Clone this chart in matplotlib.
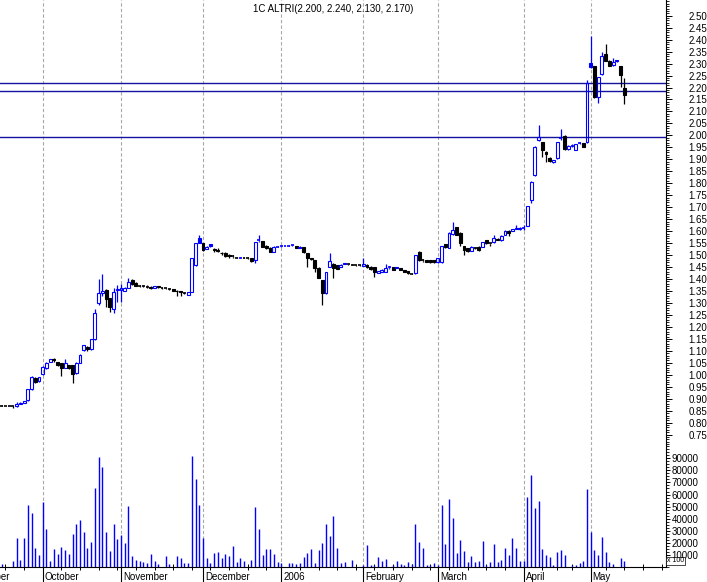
import matplotlib
matplotlib.use("Agg")
import matplotlib.pyplot as plt
import matplotlib.transforms as mtransforms
from matplotlib.patches import Rectangle
from matplotlib.ticker import FixedLocator, MultipleLocator, FormatStrFormatter
import pandas as pd

plt.rcParams["font.family"] = ["Liberation Sans", "DejaVu Sans"]

title = "1C ALTRI(2.200, 2.240, 2.130, 2.170)"
first_day = "2005-09-16"
holidays = ["2005-12-26", "2006-04-14", "2006-04-17", "2006-05-01"]
month_names = ["", "2006", "February", "March", "April", "May", "June",
               "July", "August", "September", "October", "November", "December"]

opens = [0.870, 0.870, 0.870, 0.869, 0.868, 0.880, 0.884, 0.895, 0.942, 0.988,
         0.973, 1.003, 1.027, 1.055, 1.066, 1.052, 1.048, 1.030, 1.040, 1.040,
         1.009, 1.050, 1.104, 1.117, 1.107, 1.148, 1.299, 1.340, 1.354, 1.319,
         1.274, 1.355, 1.355, 1.352, 1.364, 1.396, 1.385, 1.373, 1.370, 1.369,
         1.368, 1.363, 1.370, 1.365, 1.363, 1.360, 1.358, 1.352, 1.349, 1.342,
         1.333, 1.347, 1.459, 1.570, 1.549, 1.525, 1.545, 1.525, 1.522, 1.510,
         1.507, 1.500, 1.496, 1.491, 1.489, 1.490, 1.489, 1.487, 1.479, 1.560,
         1.559, 1.540, 1.530, 1.515, 1.535, 1.536, 1.538, 1.539, 1.543, 1.538,
         1.530, 1.532, 1.507, 1.488, 1.479, 1.447, 1.396, 1.340, 1.452, 1.462,
         1.458, 1.450, 1.465, 1.462, 1.460, 1.459, 1.458, 1.455, 1.460, 1.452,
         1.449, 1.425, 1.430, 1.431, 1.447, 1.449, 1.451, 1.445, 1.438, 1.433,
         1.424, 1.424, 1.514, 1.480, 1.480, 1.478, 1.479, 1.470, 1.470, 1.545,
         1.531, 1.588, 1.616, 1.594, 1.538, 1.528, 1.518, 1.530, 1.535, 1.535,
         1.563, 1.550, 1.553, 1.568, 1.563, 1.584, 1.602, 1.601, 1.609, 1.610,
         1.614, 1.623, 1.730, 1.835, 1.981, 1.971, 1.932, 1.907, 1.888, 1.904,
         1.990, 1.998, 1.942, 1.955, 1.939, 1.968, 1.967, 1.971, 2.301, 2.290,
         2.162, 2.255, 2.340, 2.312, 2.294, 2.313, 2.290, 2.200]
highs = [0.872, 0.870, 0.870, 0.870, 0.885, 0.886, 0.892, 0.942, 0.995, 0.992,
         0.992, 1.035, 1.052, 1.068, 1.070, 1.055, 1.050, 1.065, 1.042, 1.042,
         1.052, 1.085, 1.126, 1.120, 1.150, 1.274, 1.399, 1.421, 1.358, 1.322,
         1.361, 1.375, 1.380, 1.365, 1.403, 1.400, 1.387, 1.376, 1.374, 1.374,
         1.370, 1.372, 1.372, 1.366, 1.364, 1.361, 1.360, 1.353, 1.350, 1.344,
         1.346, 1.489, 1.552, 1.584, 1.552, 1.537, 1.546, 1.530, 1.528, 1.514,
         1.512, 1.505, 1.500, 1.492, 1.491, 1.491, 1.492, 1.488, 1.556, 1.584,
         1.560, 1.542, 1.532, 1.537, 1.537, 1.540, 1.540, 1.541, 1.544, 1.540,
         1.540, 1.534, 1.509, 1.490, 1.481, 1.450, 1.398, 1.430, 1.507, 1.465,
         1.460, 1.462, 1.466, 1.463, 1.461, 1.460, 1.459, 1.487, 1.462, 1.454,
         1.451, 1.434, 1.440, 1.463, 1.455, 1.451, 1.452, 1.446, 1.439, 1.434,
         1.425, 1.502, 1.516, 1.484, 1.481, 1.479, 1.480, 1.488, 1.540, 1.547,
         1.596, 1.640, 1.618, 1.596, 1.540, 1.530, 1.536, 1.532, 1.537, 1.555,
         1.565, 1.552, 1.584, 1.570, 1.582, 1.604, 1.604, 1.611, 1.626, 1.618,
         1.626, 1.707, 1.810, 1.955, 2.044, 1.973, 1.934, 1.909, 1.898, 1.973,
         2.025, 2.000, 1.958, 1.963, 1.966, 1.972, 1.969, 2.231, 2.415, 2.292,
         2.245, 2.350, 2.382, 2.314, 2.322, 2.316, 2.292, 2.240]
lows = [0.868, 0.868, 0.868, 0.862, 0.865, 0.878, 0.882, 0.890, 0.935, 0.965,
        0.970, 1.000, 1.025, 1.052, 1.055, 1.038, 0.995, 1.028, 1.025, 0.965,
        1.005, 1.048, 1.100, 1.100, 1.105, 1.145, 1.290, 1.330, 1.284, 1.264,
        1.257, 1.305, 1.305, 1.350, 1.362, 1.375, 1.370, 1.368, 1.366, 1.362,
        1.360, 1.362, 1.362, 1.360, 1.358, 1.356, 1.350, 1.330, 1.330, 1.336,
        1.332, 1.345, 1.455, 1.550, 1.518, 1.524, 1.535, 1.515, 1.512, 1.500,
        1.492, 1.490, 1.490, 1.486, 1.488, 1.486, 1.485, 1.472, 1.466, 1.556,
        1.533, 1.526, 1.513, 1.514, 1.533, 1.535, 1.536, 1.537, 1.540, 1.528,
        1.528, 1.510, 1.452, 1.480, 1.430, 1.404, 1.292, 1.338, 1.450, 1.403,
        1.440, 1.449, 1.461, 1.459, 1.457, 1.456, 1.455, 1.454, 1.448, 1.438,
        1.410, 1.424, 1.428, 1.430, 1.440, 1.436, 1.446, 1.436, 1.430, 1.422,
        1.420, 1.422, 1.477, 1.472, 1.470, 1.469, 1.468, 1.469, 1.468, 1.530,
        1.530, 1.586, 1.582, 1.540, 1.500, 1.512, 1.516, 1.524, 1.519, 1.533,
        1.547, 1.540, 1.551, 1.563, 1.561, 1.582, 1.580, 1.599, 1.607, 1.606,
        1.605, 1.620, 1.716, 1.832, 1.975, 1.911, 1.890, 1.890, 1.886, 1.900,
        1.980, 1.940, 1.940, 1.950, 1.937, 1.966, 1.950, 1.968, 2.280, 2.155,
        2.137, 2.253, 2.310, 2.289, 2.292, 2.307, 2.204, 2.130]
closes = [0.870, 0.870, 0.869, 0.868, 0.880, 0.884, 0.889, 0.940, 0.990, 0.970,
          0.990, 1.031, 1.050, 1.066, 1.060, 1.040, 1.030, 1.048, 1.030, 1.005,
          1.050, 1.083, 1.124, 1.107, 1.148, 1.257, 1.343, 1.350, 1.315, 1.284,
          1.345, 1.360, 1.362, 1.364, 1.386, 1.378, 1.372, 1.370, 1.369, 1.368,
          1.362, 1.370, 1.365, 1.363, 1.360, 1.358, 1.352, 1.348, 1.345, 1.340,
          1.345, 1.487, 1.549, 1.552, 1.521, 1.535, 1.538, 1.521, 1.519, 1.507,
          1.496, 1.495, 1.494, 1.489, 1.490, 1.488, 1.487, 1.474, 1.553, 1.563,
          1.535, 1.528, 1.515, 1.535, 1.536, 1.538, 1.539, 1.540, 1.541, 1.530,
          1.535, 1.512, 1.487, 1.483, 1.445, 1.406, 1.340, 1.428, 1.476, 1.445,
          1.443, 1.460, 1.462, 1.460, 1.459, 1.458, 1.457, 1.462, 1.450, 1.440,
          1.431, 1.433, 1.438, 1.445, 1.450, 1.438, 1.447, 1.438, 1.431, 1.424,
          1.422, 1.500, 1.479, 1.477, 1.472, 1.471, 1.470, 1.486, 1.538, 1.532,
          1.594, 1.605, 1.584, 1.549, 1.520, 1.518, 1.535, 1.528, 1.521, 1.553,
          1.549, 1.548, 1.570, 1.565, 1.580, 1.602, 1.594, 1.609, 1.612, 1.614,
          1.616, 1.705, 1.807, 1.953, 1.992, 1.939, 1.921, 1.894, 1.897, 1.971,
          1.992, 1.942, 1.956, 1.958, 1.964, 1.970, 1.953, 2.217, 2.284, 2.162,
          2.243, 2.332, 2.312, 2.291, 2.308, 2.309, 2.252, 2.170]
volumes = [2500, 0, 0, 5000, 24300, 5900, 24300, 51100, 44400, 15900,
           10000, 53600, 31800, 5000, 15100, 10900, 16800, 14200, 10900, 27700,
           35200, 38500, 29300, 15900, 20900, 65400, 91300, 83000, 29300, 13400,
           36000, 23500, 26800, 20100, 50300, 9200, 5900, 5000, 4200, 3400,
           10900, 5000, 2500, 0, 9200, 2500, 0, 9200, 7500, 3400,
           3400, 92200, 72900, 51100, 24300, 7500, 3400, 11700, 12600, 7500,
           10900, 9200, 17600, 4200, 7500, 5000, 0, 5900, 49400, 31800,
           10000, 15100, 15100, 10900, 4200, 3400, 0, 3400, 3400, 2500,
           3400, 8400, 11700, 15100, 3400, 14200, 20100, 35200, 26000, 41900,
           15900, 3400, 4200, 0, 5900, 0, 0, 1500, 18400, 1500,
           1500, 8400, 5000, 6700, 0, 1700, 5000, 2500, 1700, 4200,
           2500, 36000, 21000, 15900, 1700, 1700, 3400, 2000, 51100, 19000,
           56700, 40800, 11700, 22600, 13400, 4200, 9200, 4200, 5000, 21800,
           1700, 4200, 19300, 4200, 5900, 15900, 10000, 24300, 15900, 5000,
           5000, 57800, 76300, 48600, 54500, 15100, 10000, 8400, 1700, 12600,
           14200, 10000, 0, 1700, 1700, 3400, 5000, 64500, 29300, 14200,
           10000, 25100, 12600, 4200, 2500, 0, 7500, 5000]

levels = [2.218, 2.186, 1.993]
price_ticks = [0.75 + 0.05 * k for k in range(36)]
volume_ticks = [10000, 20000, 30000, 40000, 50000, 60000, 70000, 80000, 90000]

BLUE = "#0000ff"
BLACK = "#000000"


def main():
    days = pd.bdate_range("2005-09-01", "2006-05-31")
    days = days[~days.isin(pd.to_datetime(holidays))]
    start = list(days).index(pd.Timestamp(first_day))

    fig = plt.figure(figsize=(7.07, 5.82), dpi=100)
    W, H = 707.0, 582.0
    ax = fig.add_axes([0, 137 / H, 666 / W, 445 / H])
    axv = fig.add_axes([0, 15 / H, 666 / W, 122 / H], sharex=ax)

    # month starts and weekly ticks
    month_starts, week_starts = [], []
    for k, d in enumerate(days):
        if k == 0 or d.month != days[k - 1].month:
            month_starts.append((k, d.month))
        if k == 0 or d.weekday() < days[k - 1].weekday():
            week_starts.append(k)

    for a in (ax, axv):
        for k, _ in month_starts:
            a.axvline(k, color="#a8a8a8", lw=0.8, ls=(0, (3, 2)), zorder=0)

    for lv in levels:
        ax.axhline(lv, color="#1414a0", lw=1.0, zorder=1)

    w = 0.78
    for i in range(len(closes)):
        x = start + i
        o, h, l, c = opens[i], highs[i], lows[i], closes[i]
        prev = closes[i - 1] if i > 0 else c
        col = BLUE if c > prev else BLACK
        lo, hi = min(o, c), max(o, c)
        ax.vlines(x, l, lo, color=col, lw=0.9, zorder=2)
        ax.vlines(x, hi, h, color=col, lw=0.9, zorder=2)
        if hi - lo < 0.003:
            ax.hlines((o + c) / 2, x - w / 2, x + w / 2, color=col, lw=1.2, zorder=3)
            ax.vlines(x, lo, hi, color=col, lw=0.9, zorder=2)
        else:
            face = col if c < o else "none"
            ax.add_patch(Rectangle((x - w / 2, lo), w, hi - lo, facecolor=face,
                                   edgecolor=col, lw=0.8, zorder=3))

    xs = [start + i for i in range(len(volumes))]
    axv.vlines(xs, 0, volumes, color=BLUE, lw=1.0, zorder=2)

    ax.set_xlim(start - 0.46, start + 178.2)
    ax.set_ylim(0.7068, 2.5656)
    axv.set_ylim(0, 101000)

    # price axis
    for s in ("top", "left", "bottom"):
        ax.spines[s].set_visible(False)
    ax.spines["right"].set_linewidth(0.8)
    ax.yaxis.tick_right()
    ax.yaxis.set_major_locator(FixedLocator(price_ticks))
    ax.yaxis.set_major_formatter(FormatStrFormatter("%.2f"))
    ax.yaxis.set_minor_locator(MultipleLocator(0.01))
    ax.tick_params(axis="y", which="major", length=4, width=0.7, pad=12, labelsize=7)
    ax.tick_params(axis="y", which="minor", length=2.2, width=0.6)
    ax.tick_params(axis="x", which="both", bottom=False, labelbottom=False)

    # volume axis
    for s in ("top", "left"):
        axv.spines[s].set_visible(False)
    axv.spines["right"].set_linewidth(0.8)
    axv.spines["bottom"].set_linewidth(0.8)
    axv.yaxis.tick_right()
    axv.yaxis.set_major_locator(FixedLocator(volume_ticks))
    axv.yaxis.set_major_formatter(FormatStrFormatter("%d"))
    axv.yaxis.set_minor_locator(MultipleLocator(2500))
    axv.tick_params(axis="y", which="major", length=3, width=0.7, pad=1, labelsize=7)
    axv.tick_params(axis="y", which="minor", length=2, width=0.6)

    axv.xaxis.set_major_locator(FixedLocator([k for k, _ in month_starts]))
    axv.xaxis.set_minor_locator(FixedLocator(week_starts))
    axv.tick_params(axis="x", which="major", direction="out", length=11, width=0.8,
                    labelbottom=False)
    axv.tick_params(axis="x", which="minor", direction="inout", length=4, width=0.7)

    trans = mtransforms.offset_copy(axv.get_xaxis_transform(), fig=fig,
                                    x=2, y=-10, units="dots")
    for k, m in month_starts:
        axv.text(k, 0, month_names[m % 12 if m != 1 else 1] if m != 12 else "December",
                 transform=trans, ha="left", va="center", fontsize=7, clip_on=False)

    fig.text(667 / W, 1 - 561 / H, "x 100", fontsize=5, ha="left", va="center",
             bbox=dict(facecolor="white", edgecolor="black", lw=0.5, pad=0.6))

    fig.text(333 / W, 1 - 8.5 / H, title, ha="center", va="center", fontsize=7)

    fig.savefig("out.png", dpi=100)


if __name__ == "__main__":
    main()
